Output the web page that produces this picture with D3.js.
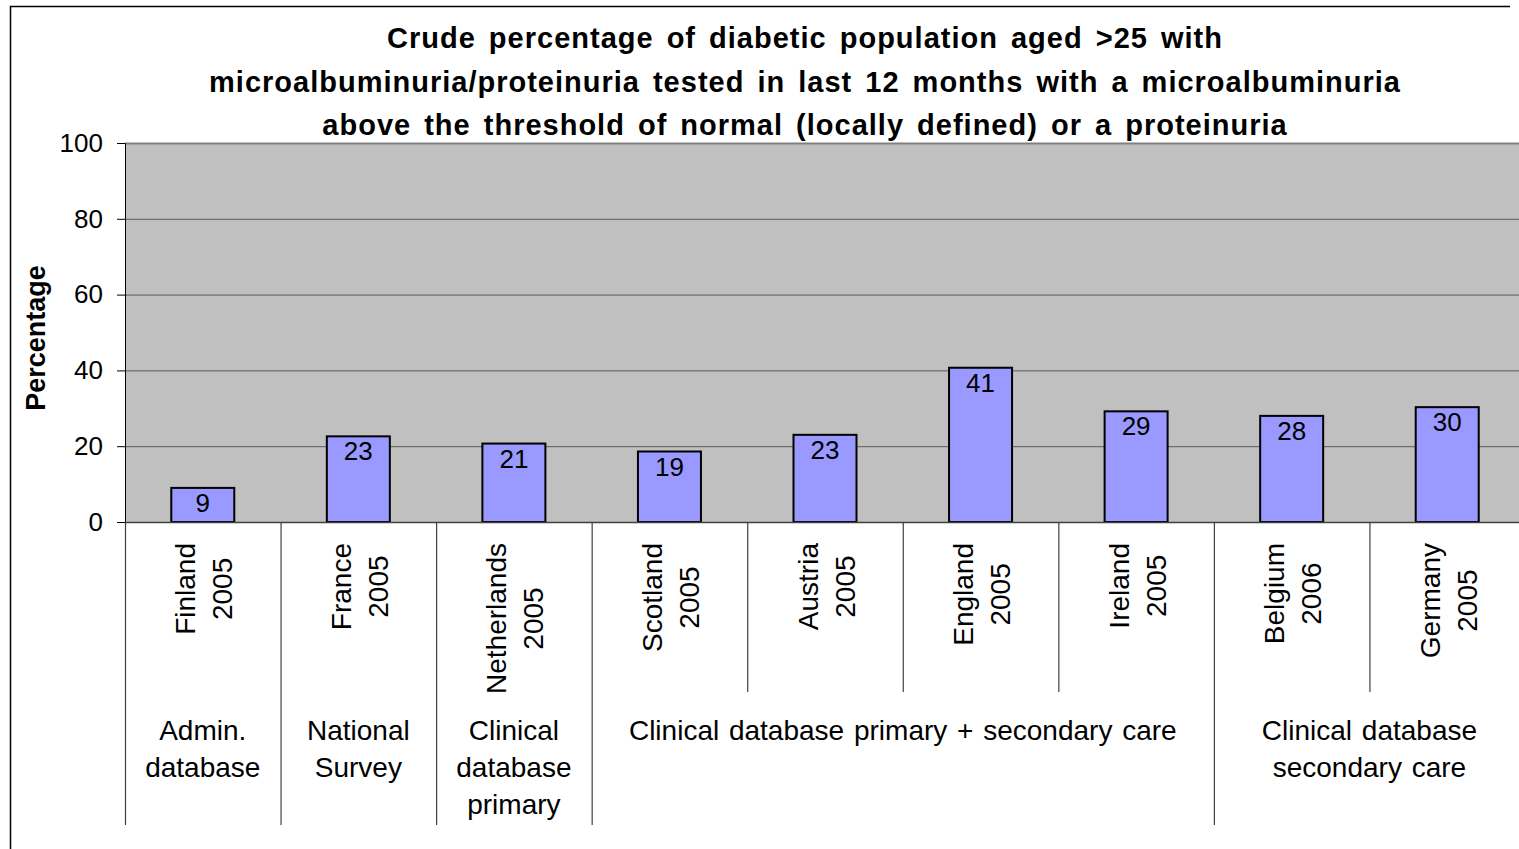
<!DOCTYPE html>
<html>
<head>
<meta charset="utf-8">
<script src="https://cdn.jsdelivr.net/npm/d3@7"></script>
<style>
  body { margin: 0; background: #fff; }
  svg { display: block; font-family: "Liberation Sans", Arial, sans-serif; }
</style>
</head>
<body>
<svg id="chart" width="1519" height="849"></svg>
<script>
const titleLines = [
  "Crude percentage of diabetic population aged >25 with",
  "microalbuminuria/proteinuria tested in last 12 months with a microalbuminuria",
  "above the threshold of normal (locally defined) or a proteinuria"
];
const countries = ["Finland", "France", "Netherlands", "Scotland", "Austria", "England", "Ireland", "Belgium", "Germany"];
const years     = ["2005", "2005", "2005", "2005", "2005", "2005", "2005", "2006", "2005"];
const values    = [9, 22.6, 20.7, 18.6, 23, 40.7, 29.2, 28, 30.3];
const groups = [
  {lines: ["Admin.", "database"], from: 0, to: 0},
  {lines: ["National", "Survey"], from: 1, to: 1},
  {lines: ["Clinical", "database", "primary"], from: 2, to: 2},
  {lines: ["Clinical database primary + secondary care"], from: 3, to: 6},
  {lines: ["Clinical database", "secondary care"], from: 7, to: 8}
];
const yTicks = [0, 20, 40, 60, 80, 100];

const svg = d3.select("#chart");
const plot = {left: 125, top: 143, right: 1525, bottom: 522};

const x = d3.scaleBand().domain(d3.range(countries.length))
  .range([plot.left, plot.right]).paddingInner(0).paddingOuter(0);
const y = d3.scaleLinear().domain([0, 100]).range([plot.bottom, plot.top]);

// outer frame (only top and left edges are visible)
svg.append("path")
  .attr("d", "M10.5,849 V6.5 H1510")
  .attr("fill", "none").attr("stroke", "#000").attr("stroke-width", 1.5);

// title
svg.append("g").selectAll("text").data(titleLines).join("text")
  .attr("x", 805).attr("y", (d, i) => 48 + i * 43.5)
  .attr("text-anchor", "middle")
  .attr("font-size", 29).attr("font-weight", "bold")
  .attr("letter-spacing", 1).attr("word-spacing", 4)
  .text(d => d);

// plot background
svg.append("rect")
  .attr("x", plot.left).attr("y", plot.top)
  .attr("width", plot.right - plot.left).attr("height", plot.bottom - plot.top)
  .attr("fill", "#c0c0c0");

// gridlines
svg.append("g").selectAll("line").data(yTicks.filter(d => d > 0)).join("line")
  .attr("x1", plot.left).attr("x2", plot.right)
  .attr("y1", d => y(d) + 0.5).attr("y2", d => y(d) + 0.5)
  .attr("stroke", d => d === 100 ? "#808080" : "#5a5a5a")
  .attr("stroke-width", d => d === 100 ? 2 : 1);

// y axis
const yAxis = svg.append("g")
  .attr("transform", `translate(${plot.left},0)`)
  .call(d3.axisLeft(y).tickValues(yTicks).tickSize(8).tickPadding(14));
yAxis.select(".domain").attr("stroke", "#000");
yAxis.selectAll("text").attr("font-size", 26).attr("fill", "#000")
  .attr("font-family", "Liberation Sans, Arial, sans-serif");

svg.append("text")
  .attr("transform", "translate(45,338) rotate(-90)")
  .attr("text-anchor", "middle")
  .attr("font-size", 27).attr("font-weight", "bold")
  .text("Percentage");

// bars
const barW = x.bandwidth() * 0.405;
svg.append("g").selectAll("rect").data(values).join("rect")
  .attr("x", (d, i) => x(i) + (x.bandwidth() - barW) / 2)
  .attr("y", d => y(d))
  .attr("width", barW)
  .attr("height", d => y(0) - y(d))
  .attr("fill", "#9999ff")
  .attr("stroke", "#000").attr("stroke-width", 2);

// data labels
svg.append("g").selectAll("text").data(values).join("text")
  .attr("x", (d, i) => x(i) + x.bandwidth() / 2)
  .attr("y", d => y(d) + 24)
  .attr("text-anchor", "middle")
  .attr("font-size", 26)
  .text(d => Math.round(d));

// x axis line
svg.append("line")
  .attr("x1", plot.left).attr("x2", plot.right)
  .attr("y1", plot.bottom + 0.5).attr("y2", plot.bottom + 0.5)
  .attr("stroke", "#404040").attr("stroke-width", 1.5);

// separators between categories
const groupStarts = new Set(groups.map(g => g.from));
svg.append("g").selectAll("line").data(d3.range(countries.length + 1)).join("line")
  .attr("x1", i => (i < countries.length ? x(i) : plot.right) + 0.5)
  .attr("x2", i => (i < countries.length ? x(i) : plot.right) + 0.5)
  .attr("y1", plot.bottom)
  .attr("y2", i => groupStarts.has(i) || i === countries.length ? 825 : 692)
  .attr("stroke", "#404040").attr("stroke-width", 1.2);

// rotated category labels
const catG = svg.append("g");
countries.forEach((c, i) => {
  const g = catG.append("g");
  const lines = [c, years[i]];
  const texts = lines.map(t => g.append("text")
    .attr("font-size", 28).attr("text-anchor", "middle").text(t));
  const maxW = d3.max(texts, t => t.node().getComputedTextLength());
  const cx = x(i) + x.bandwidth() / 2;
  const cy = 543 + maxW / 2;
  texts.forEach((t, k) => {
    const lx = cx - 7.5 + k * 37;
    t.attr("transform", `translate(${lx},${cy}) rotate(-90)`);
  });
});

// group labels
const grpG = svg.append("g");
groups.forEach(gr => {
  const x0 = x(gr.from);
  const x1 = gr.to + 1 < countries.length ? x(gr.to + 1) : plot.right;
  grpG.append("g").selectAll("text").data(gr.lines).join("text")
    .attr("x", (x0 + x1) / 2)
    .attr("y", (d, k) => 740 + k * 37)
    .attr("text-anchor", "middle")
    .attr("font-size", 28).attr("word-spacing", 2)
    .text(d => d);
});
</script>
</body>
</html>
